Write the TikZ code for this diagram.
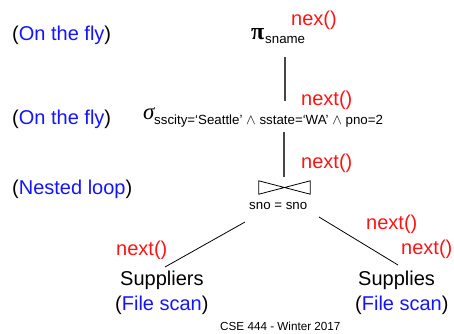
\documentclass[tikz,border=0pt]{standalone}
\usepackage{fontspec}
\setmainfont{Liberation Sans}
\newfontfamily\grk{Liberation Serif}
\definecolor{myblue}{RGB}{20,20,255}
\definecolor{myred}{RGB}{255,20,20}
\definecolor{edgegray}{RGB}{70,70,70}
\begin{document}
\begin{tikzpicture}[x=1pt,y=-1pt,
  txt/.style={inner sep=0pt,anchor=base west,font=\fontsize{20}{24}\selectfont},
  call/.style={txt,text=myred},
  small/.style={inner sep=0pt,anchor=base west,font=\fontsize{13.3}{16}\selectfont},
  edge/.style={draw=edgegray,line width=1.1pt},
  thin/.style={draw=black,line width=0.8pt}]
\useasboundingbox (0,0) rectangle (454,333);
% left annotations
\node[txt] (a1) at (12,40) {(\textcolor{myblue}{On the fly})};
\node[txt] (a2) at (12,124) {(\textcolor{myblue}{On the fly})};
\node[txt] (a3) at (12,194) {(\textcolor{myblue}{Nested loop})};
% projection
\node[txt,font=\fontsize{24}{28}\selectfont] (pi) at (251,39) {\grk\bfseries π};
\node[small] (pisub) at (265,43) {sname};
\node[call] (c1) at (291,25) {nex()};
% selection
\node[txt,font=\fontsize{23}{27}\selectfont] (sigma) at (143,119) {\grk\itshape σ};
\node[small] (sigsub) at (154,124) {sscity=‘Seattle’ $\wedge$ sstate=‘WA’ $\wedge$ pno=2};
\node[call] (c2) at (301,105) {next()};
\node[call] (c3) at (301,168) {next()};
% join
\node[inner sep=0pt,minimum width=51pt,minimum height=13pt] (join) at (284.5,187.5) {};
\draw[thin] (join.north west) -- (join.south west) -- (join.north east) -- (join.south east) -- cycle;
\node[small] (jcond) at (249,209) {sno = sno};
% leaves
\node[txt] (sup1) at (120,285) {Suppliers};
\node[txt] (fs1) at (115,310) {(\textcolor{myblue}{File scan})};
\node[txt] (sup2) at (358,285) {Supplies};
\node[txt] (fs2) at (355,310) {(\textcolor{myblue}{File scan})};
\node[call] (c4) at (116,255) {next()};
\node[call] (c5) at (366,229) {next()};
\node[call] (c6) at (401,254) {next()};
% footer
\node[inner sep=0pt,anchor=base west,font=\fontsize{11.7}{14}\selectfont] (foot) at (220,330) {CSE 444 - Winter 2017};
% connectors
\coordinate (pib) at (285,57);
\coordinate (sigt) at (285,101);
\coordinate (sigb) at (284,132);
\coordinate (joint) at (284,177);
\coordinate (jl) at (245,222);
\coordinate (s1t) at (165,267);
\coordinate (jr) at (319,217);
\coordinate (s2t) at (398,265);
\draw[edge] (pib) -- (sigt);
\draw[edge] (sigb) -- (joint);
\draw[thin] (jl) -- (s1t);
\draw[thin] (jr) -- (s2t);
\end{tikzpicture}
\end{document}
